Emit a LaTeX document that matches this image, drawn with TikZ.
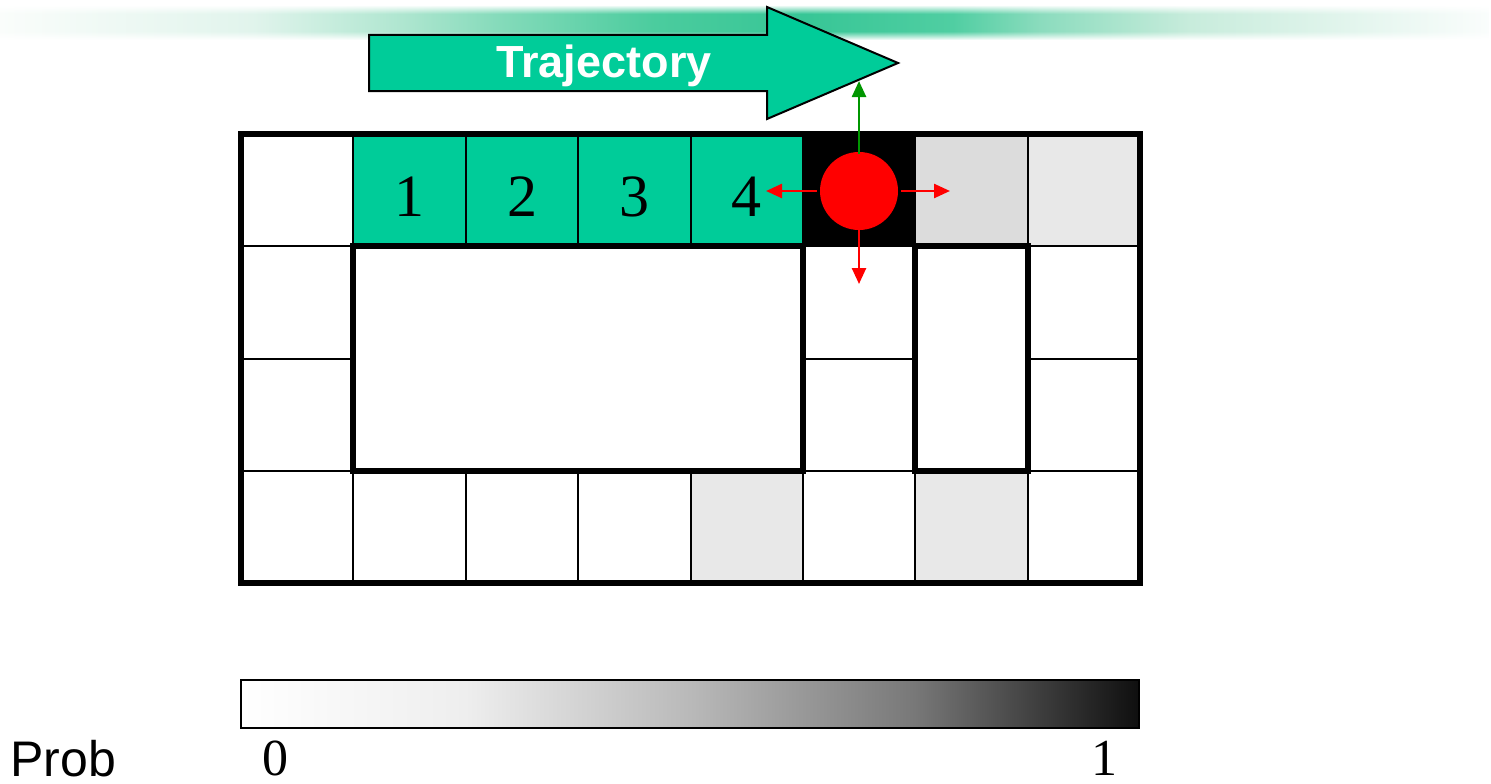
\documentclass[tikz,border=0pt]{standalone}
\usepackage{fontspec}
\setmainfont{Liberation Serif}
\setsansfont{Liberation Sans}
\usetikzlibrary{arrows.meta,fadings}
\definecolor{trajgreen}{RGB}{0,204,153}
\definecolor{gridgray}{RGB}{220,220,220}
\definecolor{lightgray}{RGB}{232,232,232}
\definecolor{arrowgreen}{RGB}{0,150,0}
% band colours
\definecolor{bA}{RGB}{250,253,251}
\definecolor{bB}{RGB}{225,244,236}
\definecolor{bC}{RGB}{175,230,208}
\definecolor{bD}{RGB}{130,218,185}
\definecolor{bE}{RGB}{75,204,158}
\definecolor{bF}{RGB}{55,198,150}
\definecolor{bG}{RGB}{80,206,162}
\definecolor{bH}{RGB}{140,220,190}
\definecolor{bI}{RGB}{200,236,220}
\definecolor{bJ}{RGB}{250,253,252}
\pgfdeclarehorizontalshading{bandshade}{100bp}{color(0bp)=(bA); color(25bp)=(bA); color(33.5bp)=(bB); color(38.5bp)=(bC); color(42bp)=(bD); color(47bp)=(bE); color(52bp)=(bF); color(57bp)=(bG); color(60bp)=(bH); color(65bp)=(bI); color(75bp)=(bJ); color(100bp)=(bJ)}
\pgfdeclareverticalshading{vfadeshade}{100bp}{color(0bp)=(black); color(25bp)=(black); color(37.5bp)=(white); color(62.5bp)=(white); color(75bp)=(black); color(100bp)=(black)}
\pgfdeclarefading{vfade}{\pgfuseshading{vfadeshade}}
% colour bar
\definecolor{pA}{RGB}{255,255,255}
\definecolor{pB}{RGB}{238,238,238}
\definecolor{pC}{RGB}{185,185,185}
\definecolor{pD}{RGB}{120,120,120}
\definecolor{pE}{RGB}{15,15,15}
\pgfdeclarehorizontalshading{probshade}{100bp}{color(0bp)=(pA); color(25bp)=(pA); color(37.5bp)=(pB); color(50bp)=(pC); color(62.5bp)=(pD); color(75bp)=(pE); color(100bp)=(pE)}
\tikzset{
  thinline/.style={line width=2pt, black},
  thickline/.style={line width=6pt, black},
  digit/.style={font=\fontsize{60}{60}\selectfont, inner sep=0pt},
  redarrow/.style={line width=2.5pt, red, -{Triangle[length=16pt,width=14pt]}},
  greenarrow/.style={line width=2.5pt, arrowgreen, -{Triangle[length=16pt,width=14pt]}},
}
\newcommand\cellfill[3]{\fill[#3] ({241+112.375*#1},{134+112.25*#2}) rectangle ++(112.375,112.25);}
\begin{document}
\begin{tikzpicture}[x=1pt,y=-1pt]
\useasboundingbox (0,0) rectangle (1491,784);
% top band
\shade[shading=bandshade, path fading=vfade] (0,5) rectangle (1491,40);
% trajectory arrow
\draw[line width=2pt, fill=trajgreen] (369,35) -- (767,35) -- (767,7) -- (898,63) -- (767,119) -- (767,91) -- (369,91) -- cycle;
\node[font=\sffamily\bfseries\fontsize{45}{45}\selectfont, text=white, inner sep=0pt] (traj) at (604,66) {Trajectory};
% cell fills
\foreach \i in {1,2,3,4} {\cellfill{\i}{0}{trajgreen}}
\cellfill{5}{0}{black}
\cellfill{6}{0}{gridgray}
\cellfill{7}{0}{lightgray}
\cellfill{4}{3}{lightgray}
\cellfill{6}{3}{lightgray}
% thin grid
\foreach \i in {1,...,7} {\draw[thinline] ({241+112.375*\i},134) -- ({241+112.375*\i},583);}
\foreach \j in {1,2,3} {\draw[thinline] (241,{134+112.25*\j}) -- (1140,{134+112.25*\j});}
% obstacles
\fill[white] (353.375,246.25) rectangle (802.5,470.75);
\fill[white] (915.25,246.25) rectangle (1027.625,470.75);
\draw[thickline] (353.375,246.25) rectangle (802.5,470.75);
\draw[thickline] (915.25,246.25) rectangle (1027.625,470.75);
\draw[thickline] (241,134) rectangle (1140,583);
% numbers
\node[digit] (n1) at (409.7,197) {1};
\node[digit] (n2) at (522.1,197) {2};
\node[digit] (n3) at (634.4,197) {3};
\node[digit] (n4) at (746.8,197) {4};
% robot
\node[circle, fill=red, minimum size=78pt, inner sep=0pt] (robot) at (859,191) {};
\coordinate (tl) at (766,191);
\coordinate (tr) at (950,191);
\coordinate (td) at (859,284);
\coordinate (tu) at (859,81);
\draw[redarrow] ([xshift=-3pt]robot.west) -- (tl);
\draw[redarrow] ([xshift=3pt]robot.east) -- (tr);
\draw[redarrow] (robot.south) -- (td);
\draw[greenarrow] ([yshift=-2pt]robot.north) -- (tu);
% colour bar
\shade[shading=probshade] (241,680) rectangle (1139,728);
\draw[line width=2pt] (241,680) rectangle (1139,728);
\node[font=\fontsize{52}{52}\selectfont, anchor=base, inner sep=0pt] (zero) at (275,775) {0};
\node[font=\fontsize{52}{52}\selectfont, anchor=base, inner sep=0pt] (one) at (1104,775) {1};
\node[font=\sffamily\fontsize{50}{50}\selectfont, anchor=base west, inner sep=0pt] (prob) at (10,776) {Prob};
\end{tikzpicture}
\end{document}
